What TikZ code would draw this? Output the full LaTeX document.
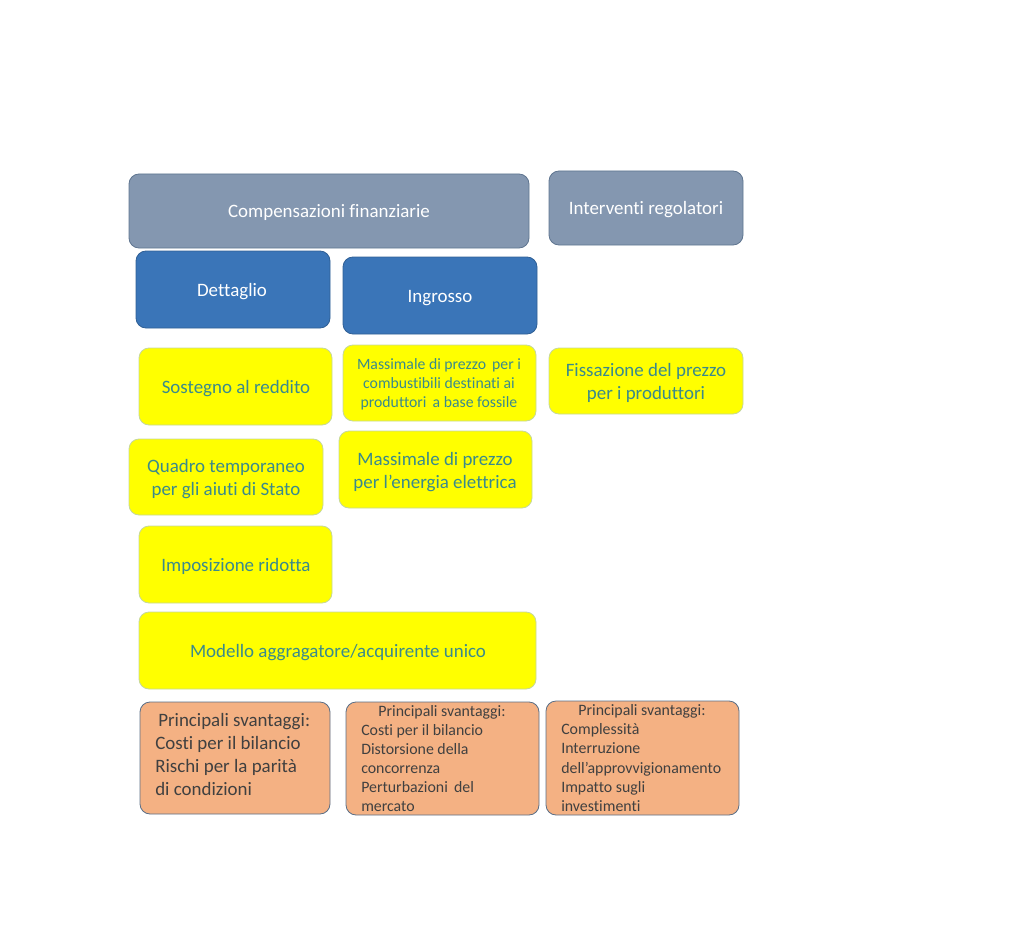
\documentclass[tikz,border=0pt]{standalone}
\usepackage{fontspec}
\setmainfont[Ligatures={NoCommon}]{Carlito}
\definecolor{greyblue}{HTML}{8497B0}
\definecolor{greyblueb}{HTML}{5F7590}
\definecolor{midblue}{HTML}{3A75B8}
\definecolor{midblueb}{HTML}{2F5F95}
\definecolor{yel}{HTML}{FFFF00}
\definecolor{yelb}{HTML}{C5D79B}
\definecolor{yeltext}{HTML}{3A8A8C}
\definecolor{orng}{HTML}{F4B183}
\definecolor{orngb}{HTML}{5A6E86}
\definecolor{orngtext}{HTML}{404040}
\begin{document}
\begin{tikzpicture}[x=0.75pt,y=-0.75pt,
  box/.style={rounded corners=7.5pt,line width=0.6pt},
  greybox/.style={box,fill=greyblue,draw=greyblueb},
  bluebox/.style={box,fill=midblue,draw=midblueb},
  yelbox/.style={box,fill=yel,draw=yelb},
  orbox/.style={box,fill=orng,draw=orngb},
  wtxt/.style={text=white,font=\fontsize{14.2}{17.25}\selectfont,align=center,inner sep=0pt,yshift=-1.2pt},
  ytxt/.style={text=yeltext,font=\fontsize{14.2}{17.25}\selectfont,align=center,inner sep=0pt,yshift=-1.2pt},
  ysmall/.style={text=yeltext,font=\fontsize{11.8}{14.25}\selectfont,align=center,inner sep=0pt,yshift=-1pt},
  obig/.style={text=orngtext,font=\fontsize{14.2}{17}\selectfont,inner sep=0pt,anchor=base west,yshift=-1.2pt},
  osmall/.style={text=orngtext,font=\fontsize{11.9}{14}\selectfont,inner sep=0pt,anchor=base west,yshift=-0.8pt},
  otitle/.style={text=orngtext,font=\fontsize{11.9}{14}\selectfont,inner sep=0pt,anchor=base,yshift=-0.8pt}]
\useasboundingbox (0,0) rectangle (1021,945);
% top row
\draw[greybox] (129,174) rectangle (529,248);
\node[wtxt] (comp) at (329,211) {Compensazioni finanziarie};
\draw[greybox] (549,171) rectangle (743,245);
\node[wtxt] (interv) at (646,208) {Interventi regolatori};
\draw[bluebox] (136,251) rectangle (330,328);
\node[wtxt] (dett) at (232,290) {Dettaglio};
\draw[bluebox] (343,257) rectangle (537,334);
\node[wtxt] (ingr) at (440,296) {Ingrosso};
% yellow boxes
\draw[yelbox] (139,348) rectangle (332,425);
\node[ytxt] (sost) at (236,387) {Sostegno al reddito};
\draw[yelbox] (343,345) rectangle (536,421);
\node[ysmall] (mascomb) at (439,383) {Massimale di prezzo\, per i\\combustibili destinati ai\\produttori\, a base fossile};
\draw[yelbox] (549,348) rectangle (743,414);
\node[ytxt] (fiss) at (646,381.5) {Fissazione del prezzo\\per i produttori};
\draw[yelbox] (129,439) rectangle (323,515);
\node[ytxt] (quadro) at (226,477.5) {Quadro temporaneo\\per gli aiuti di Stato};
\draw[yelbox] (339,431) rectangle (532,508);
\node[ytxt] (masel) at (435,470.5) {Massimale di prezzo\\per l’energia elettrica};
\draw[yelbox] (139,526) rectangle (332,603);
\node[ytxt] (impos) at (236,565) {Imposizione ridotta};
\draw[yelbox] (139,612) rectangle (536,689);
\node[ytxt] (model) at (338,651) {Modello aggragatore/acquirente unico};
% orange boxes
\draw[orbox] (140,702) rectangle (330,814);
\node[obig] (o1a) at (158,725) {Principali svantaggi:};
\node[obig] (o1b) at (155,748) {Costi per il bilancio};
\node[obig] (o1c) at (155,771) {Rischi per la parità};
\node[obig] (o1d) at (155,794) {di condizioni};
\draw[orbox] (346,702) rectangle (539,815);
\node[otitle] (o2t) at (442,715) {Principali svantaggi:};
\node[osmall] (o2a) at (361,734) {Costi per il bilancio};
\node[osmall] (o2b) at (361,753) {Distorsione della};
\node[osmall] (o2c) at (361,772) {concorrenza};
\node[osmall] (o2d) at (361,791) {Perturbazioni\, del};
\node[osmall] (o2e) at (361,810) {mercato};
\draw[orbox] (546,701) rectangle (739,815);
\node[otitle] (o3t) at (642,714) {Principali svantaggi:};
\node[osmall] (o3a) at (561,733) {Complessità};
\node[osmall] (o3b) at (561,752) {Interruzione};
\node[osmall] (o3c) at (561,772) {dell’approvvigionamento};
\node[osmall] (o3d) at (561,791) {Impatto sugli};
\node[osmall] (o3e) at (561,810) {investimenti};
\end{tikzpicture}
\end{document}
